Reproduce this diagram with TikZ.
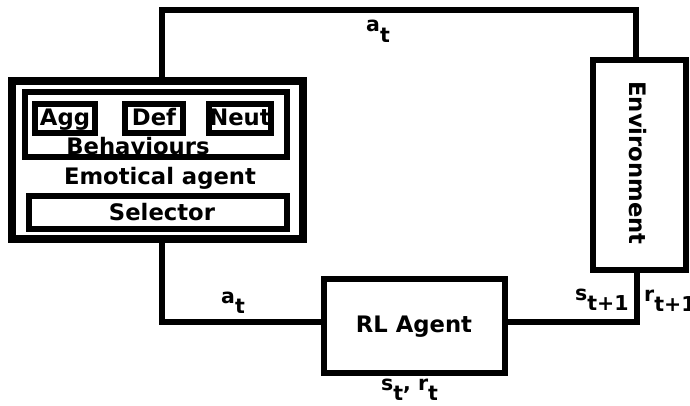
\documentclass[tikz,border=0pt]{standalone}
\usepackage{fontspec}
\setmainfont{DejaVu Sans}
\newcommand\sbs[1]{\raisebox{-0.5em}{#1}}
\tikzset{
  box/.style={draw, line width=5.5pt, inner sep=0pt, rectangle},
  txt/.style={font=\fontsize{22.7}{26}\selectfont\bfseries, inner sep=0pt},
  lbl/.style={font=\fontsize{20.5}{24}\selectfont\bfseries, inner sep=0pt, anchor=base west},
  conn/.style={line width=5.5pt}
}
\begin{document}
\begin{tikzpicture}[x=1pt,y=-1pt]
\useasboundingbox (0,0) rectangle (690,406);
% Emotical agent
\node[box, line width=7.5pt, minimum width=291pt, minimum height=158pt] (emo) at (157.5,160) {};
\node[box, minimum width=262pt, minimum height=65pt] (beh) at (156,124.5) {};
\node[box, minimum width=60pt, minimum height=29pt] (agg) at (65,118.5) {};
\node[box, minimum width=58pt, minimum height=29pt] (def) at (154,118.5) {};
\node[box, minimum width=62pt, minimum height=29pt] (neu) at (240,118.5) {};
\node[txt, anchor=base] (aggt) at (65,126) {Agg};
\node[txt, anchor=base] (deft) at (154,126) {Def};
\node[txt, anchor=base] (neut) at (240,126) {Neut};
\node[txt, anchor=base] (beht) at (138,154.5) {Behaviours};
\node[txt, anchor=base] (emot) at (160,185) {Emotical agent};
\node[box, minimum width=258pt, minimum height=33pt] (sel) at (158,212.5) {};
\node[txt, anchor=base] (selt) at (162,220.5) {Selector};
% Environment
\node[box, minimum width=93pt, minimum height=210pt] (env) at (639.5,165) {};
\node[txt, rotate=-90] (envt) at (638,163) {Environment};
% RL agent
\node[box, minimum width=181pt, minimum height=94pt] (rl) at (414.5,326) {};
\node[txt, anchor=base] (rlt) at (414,332.5) {RL Agent};
% connectors
\coordinate (c1) at (162,10);
\coordinate (c2) at (636,10);
\coordinate (c3) at (162,322);
\coordinate (c4) at (637,322);
\draw[conn] (emo.north -| c1) -- (c1) -- (c2) -- (env.north -| c2);
\draw[conn] (emo.south -| c3) -- (c3) -- (rl.west |- c3);
\draw[conn] (env.south -| c4) -- (c4) -- (rl.east |- c4);
% labels
\node[lbl] (l1) at (366,32) {a\sbs{t}};
\node[lbl] (l2) at (221,303) {a\sbs{t}};
\node[lbl] (l3) at (575,300) {s\sbs{t+1}};
\node[lbl] (l4) at (644,301) {r\sbs{t+1}};
\node[lbl] (l5) at (381,390) {s\sbs{t}, r\sbs{t}};
\end{tikzpicture}
\end{document}
